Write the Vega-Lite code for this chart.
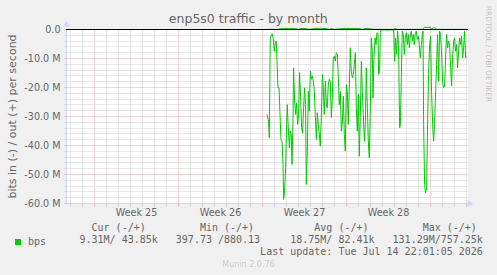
{
  "$schema": "https://vega.github.io/schema/vega-lite/v6.json",
  "width": 402,
  "height": 174,
  "autosize": {"type": "none"},
  "padding": {"left": 66, "top": 29, "right": 29, "bottom": 72},
  "background": "#f0f0f0",
  "config": {"font": "DejaVu Sans", "view": {"fill": "#ffffff", "stroke": null}},
  "title": {"text": "enp5s0 traffic - by month", "font": "DejaVu Sans", "fontSize": 12.5, "fontWeight": "normal", "color": "#666666", "anchor": "middle", "baseline": "alphabetic", "offset": 6.5, "dx": -18.7, "dy": 37},
  "resolve": {"axis": {"x": "independent", "y": "independent"}},
  "layer": [
    {
      "data": {"values": [
        {"day": 14.42, "bits": -29.3, "dir": "in", "series": "bps"},
        {"day": 14.55, "bits": -31.6, "dir": "in", "series": "bps"},
        {"day": 14.61, "bits": -37.3, "dir": "in", "series": "bps"},
        {"day": 14.69, "bits": -2.9, "dir": "in", "series": "bps"},
        {"day": 14.78, "bits": -1.7, "dir": "in", "series": "bps"},
        {"day": 14.86, "bits": -1.5, "dir": "in", "series": "bps"},
        {"day": 14.94, "bits": -3.4, "dir": "in", "series": "bps"},
        {"day": 15.03, "bits": -7.5, "dir": "in", "series": "bps"},
        {"day": 15.11, "bits": -4.6, "dir": "in", "series": "bps"},
        {"day": 15.19, "bits": -4.0, "dir": "in", "series": "bps"},
        {"day": 15.25, "bits": -10.9, "dir": "in", "series": "bps"},
        {"day": 15.33, "bits": -20.1, "dir": "in", "series": "bps"},
        {"day": 15.42, "bits": -20.1, "dir": "in", "series": "bps"},
        {"day": 15.5, "bits": -29.3, "dir": "in", "series": "bps"},
        {"day": 15.58, "bits": -37.9, "dir": "in", "series": "bps"},
        {"day": 15.67, "bits": -38.5, "dir": "in", "series": "bps"},
        {"day": 15.75, "bits": -46.5, "dir": "in", "series": "bps"},
        {"day": 15.8, "bits": -58.6, "dir": "in", "series": "bps"},
        {"day": 15.88, "bits": -55.7, "dir": "in", "series": "bps"},
        {"day": 15.97, "bits": -47.7, "dir": "in", "series": "bps"},
        {"day": 16.05, "bits": -32.7, "dir": "in", "series": "bps"},
        {"day": 16.11, "bits": -25.9, "dir": "in", "series": "bps"},
        {"day": 16.19, "bits": -33.9, "dir": "in", "series": "bps"},
        {"day": 16.28, "bits": -40.8, "dir": "in", "series": "bps"},
        {"day": 16.36, "bits": -35.0, "dir": "in", "series": "bps"},
        {"day": 16.44, "bits": -36.2, "dir": "in", "series": "bps"},
        {"day": 16.5, "bits": -46.5, "dir": "in", "series": "bps"},
        {"day": 16.58, "bits": -32.7, "dir": "in", "series": "bps"},
        {"day": 16.63, "bits": -13.2, "dir": "in", "series": "bps"},
        {"day": 16.72, "bits": -24.7, "dir": "in", "series": "bps"},
        {"day": 16.8, "bits": -29.3, "dir": "in", "series": "bps"},
        {"day": 16.88, "bits": -25.3, "dir": "in", "series": "bps"},
        {"day": 16.97, "bits": -32.7, "dir": "in", "series": "bps"},
        {"day": 17.05, "bits": -29.3, "dir": "in", "series": "bps"},
        {"day": 17.13, "bits": -14.9, "dir": "in", "series": "bps"},
        {"day": 17.22, "bits": -23.6, "dir": "in", "series": "bps"},
        {"day": 17.3, "bits": -33.9, "dir": "in", "series": "bps"},
        {"day": 17.38, "bits": -35.6, "dir": "in", "series": "bps"},
        {"day": 17.47, "bits": -27.0, "dir": "in", "series": "bps"},
        {"day": 17.55, "bits": -20.1, "dir": "in", "series": "bps"},
        {"day": 17.63, "bits": -25.9, "dir": "in", "series": "bps"},
        {"day": 17.69, "bits": -53.4, "dir": "in", "series": "bps"},
        {"day": 17.78, "bits": -41.9, "dir": "in", "series": "bps"},
        {"day": 17.86, "bits": -21.3, "dir": "in", "series": "bps"},
        {"day": 17.94, "bits": -28.2, "dir": "in", "series": "bps"},
        {"day": 18.03, "bits": -14.4, "dir": "in", "series": "bps"},
        {"day": 18.11, "bits": -17.2, "dir": "in", "series": "bps"},
        {"day": 18.19, "bits": -16.1, "dir": "in", "series": "bps"},
        {"day": 18.28, "bits": -17.8, "dir": "in", "series": "bps"},
        {"day": 18.36, "bits": -21.3, "dir": "in", "series": "bps"},
        {"day": 18.44, "bits": -29.3, "dir": "in", "series": "bps"},
        {"day": 18.53, "bits": -37.9, "dir": "in", "series": "bps"},
        {"day": 18.61, "bits": -28.7, "dir": "in", "series": "bps"},
        {"day": 18.69, "bits": -32.7, "dir": "in", "series": "bps"},
        {"day": 18.78, "bits": -36.2, "dir": "in", "series": "bps"},
        {"day": 18.86, "bits": -40.2, "dir": "in", "series": "bps"},
        {"day": 18.94, "bits": -30.4, "dir": "in", "series": "bps"},
        {"day": 19.03, "bits": -15.5, "dir": "in", "series": "bps"},
        {"day": 19.11, "bits": -20.1, "dir": "in", "series": "bps"},
        {"day": 19.19, "bits": -29.3, "dir": "in", "series": "bps"},
        {"day": 19.28, "bits": -17.8, "dir": "in", "series": "bps"},
        {"day": 19.36, "bits": -25.9, "dir": "in", "series": "bps"},
        {"day": 19.44, "bits": -27.0, "dir": "in", "series": "bps"},
        {"day": 19.53, "bits": -18.4, "dir": "in", "series": "bps"},
        {"day": 19.61, "bits": -17.2, "dir": "in", "series": "bps"},
        {"day": 19.69, "bits": -17.8, "dir": "in", "series": "bps"},
        {"day": 19.78, "bits": -30.4, "dir": "in", "series": "bps"},
        {"day": 19.86, "bits": -23.6, "dir": "in", "series": "bps"},
        {"day": 19.94, "bits": -9.8, "dir": "in", "series": "bps"},
        {"day": 20.03, "bits": -9.2, "dir": "in", "series": "bps"},
        {"day": 20.11, "bits": -10.9, "dir": "in", "series": "bps"},
        {"day": 20.19, "bits": -8.0, "dir": "in", "series": "bps"},
        {"day": 20.28, "bits": -8.6, "dir": "in", "series": "bps"},
        {"day": 20.36, "bits": -16.7, "dir": "in", "series": "bps"},
        {"day": 20.44, "bits": -25.9, "dir": "in", "series": "bps"},
        {"day": 20.53, "bits": -21.3, "dir": "in", "series": "bps"},
        {"day": 20.61, "bits": -35.0, "dir": "in", "series": "bps"},
        {"day": 20.69, "bits": -32.7, "dir": "in", "series": "bps"},
        {"day": 20.78, "bits": -23.0, "dir": "in", "series": "bps"},
        {"day": 20.86, "bits": -36.2, "dir": "in", "series": "bps"},
        {"day": 20.94, "bits": -41.9, "dir": "in", "series": "bps"},
        {"day": 21.03, "bits": -19.0, "dir": "in", "series": "bps"},
        {"day": 21.11, "bits": -21.3, "dir": "in", "series": "bps"},
        {"day": 21.19, "bits": -32.7, "dir": "in", "series": "bps"},
        {"day": 21.28, "bits": -19.0, "dir": "in", "series": "bps"},
        {"day": 21.36, "bits": -6.3, "dir": "in", "series": "bps"},
        {"day": 21.44, "bits": -14.4, "dir": "in", "series": "bps"},
        {"day": 21.53, "bits": -16.7, "dir": "in", "series": "bps"},
        {"day": 21.61, "bits": -15.5, "dir": "in", "series": "bps"},
        {"day": 21.69, "bits": -12.0, "dir": "in", "series": "bps"},
        {"day": 21.78, "bits": -8.0, "dir": "in", "series": "bps"},
        {"day": 21.86, "bits": -27.0, "dir": "in", "series": "bps"},
        {"day": 21.94, "bits": -35.0, "dir": "in", "series": "bps"},
        {"day": 22.03, "bits": -22.4, "dir": "in", "series": "bps"},
        {"day": 22.11, "bits": -43.7, "dir": "in", "series": "bps"},
        {"day": 22.19, "bits": -30.4, "dir": "in", "series": "bps"},
        {"day": 22.28, "bits": -10.9, "dir": "in", "series": "bps"},
        {"day": 22.36, "bits": -21.3, "dir": "in", "series": "bps"},
        {"day": 22.44, "bits": -29.3, "dir": "in", "series": "bps"},
        {"day": 22.53, "bits": -38.5, "dir": "in", "series": "bps"},
        {"day": 22.61, "bits": -32.7, "dir": "in", "series": "bps"},
        {"day": 22.69, "bits": -13.2, "dir": "in", "series": "bps"},
        {"day": 22.78, "bits": -27.0, "dir": "in", "series": "bps"},
        {"day": 22.86, "bits": -38.5, "dir": "in", "series": "bps"},
        {"day": 22.94, "bits": -44.2, "dir": "in", "series": "bps"},
        {"day": 23.03, "bits": -27.0, "dir": "in", "series": "bps"},
        {"day": 23.11, "bits": -2.9, "dir": "in", "series": "bps"},
        {"day": 23.19, "bits": -7.5, "dir": "in", "series": "bps"},
        {"day": 23.25, "bits": -23.6, "dir": "in", "series": "bps"},
        {"day": 23.33, "bits": -9.8, "dir": "in", "series": "bps"},
        {"day": 23.42, "bits": -2.9, "dir": "in", "series": "bps"},
        {"day": 23.5, "bits": -5.2, "dir": "in", "series": "bps"},
        {"day": 23.58, "bits": -1.1, "dir": "in", "series": "bps"},
        {"day": 23.67, "bits": -1.7, "dir": "in", "series": "bps"},
        {"day": 23.72, "bits": -15.5, "dir": "in", "series": "bps"},
        {"day": 23.8, "bits": -14.4, "dir": "in", "series": "bps"},
        {"day": 23.86, "bits": -1.0, "dir": "in", "series": "bps"},
        {"day": 23.94, "bits": -0.2, "dir": "in", "series": "bps"},
        {"day": 24.19, "bits": -0.1, "dir": "in", "series": "bps"},
        {"day": 24.44, "bits": -0.2, "dir": "in", "series": "bps"},
        {"day": 24.69, "bits": -0.1, "dir": "in", "series": "bps"},
        {"day": 24.9, "bits": -0.2, "dir": "in", "series": "bps"},
        {"day": 24.97, "bits": -0.1, "dir": "in", "series": "bps"},
        {"day": 25.05, "bits": -10.9, "dir": "in", "series": "bps"},
        {"day": 25.13, "bits": -2.9, "dir": "in", "series": "bps"},
        {"day": 25.22, "bits": -8.6, "dir": "in", "series": "bps"},
        {"day": 25.3, "bits": -0.6, "dir": "in", "series": "bps"},
        {"day": 25.38, "bits": -5.2, "dir": "in", "series": "bps"},
        {"day": 25.47, "bits": -33.9, "dir": "in", "series": "bps"},
        {"day": 25.53, "bits": -32.7, "dir": "in", "series": "bps"},
        {"day": 25.61, "bits": -16.7, "dir": "in", "series": "bps"},
        {"day": 25.69, "bits": -0.6, "dir": "in", "series": "bps"},
        {"day": 25.78, "bits": -1.7, "dir": "in", "series": "bps"},
        {"day": 25.86, "bits": -8.6, "dir": "in", "series": "bps"},
        {"day": 25.94, "bits": -2.9, "dir": "in", "series": "bps"},
        {"day": 26.03, "bits": -1.1, "dir": "in", "series": "bps"},
        {"day": 26.11, "bits": -5.2, "dir": "in", "series": "bps"},
        {"day": 26.19, "bits": -1.7, "dir": "in", "series": "bps"},
        {"day": 26.28, "bits": -6.3, "dir": "in", "series": "bps"},
        {"day": 26.36, "bits": -2.3, "dir": "in", "series": "bps"},
        {"day": 26.44, "bits": -0.6, "dir": "in", "series": "bps"},
        {"day": 26.53, "bits": -4.0, "dir": "in", "series": "bps"},
        {"day": 26.61, "bits": -1.7, "dir": "in", "series": "bps"},
        {"day": 26.69, "bits": -5.2, "dir": "in", "series": "bps"},
        {"day": 26.78, "bits": -1.1, "dir": "in", "series": "bps"},
        {"day": 26.86, "bits": -0.6, "dir": "in", "series": "bps"},
        {"day": 26.94, "bits": -3.4, "dir": "in", "series": "bps"},
        {"day": 27.03, "bits": -2.3, "dir": "in", "series": "bps"},
        {"day": 27.11, "bits": -5.2, "dir": "in", "series": "bps"},
        {"day": 27.19, "bits": -9.8, "dir": "in", "series": "bps"},
        {"day": 27.28, "bits": -5.2, "dir": "in", "series": "bps"},
        {"day": 27.36, "bits": -1.7, "dir": "in", "series": "bps"},
        {"day": 27.42, "bits": -0.6, "dir": "in", "series": "bps"},
        {"day": 27.47, "bits": -32.7, "dir": "in", "series": "bps"},
        {"day": 27.55, "bits": -53.4, "dir": "in", "series": "bps"},
        {"day": 27.63, "bits": -56.3, "dir": "in", "series": "bps"},
        {"day": 27.72, "bits": -54.6, "dir": "in", "series": "bps"},
        {"day": 27.8, "bits": -32.7, "dir": "in", "series": "bps"},
        {"day": 27.88, "bits": -15.5, "dir": "in", "series": "bps"},
        {"day": 27.97, "bits": -5.2, "dir": "in", "series": "bps"},
        {"day": 28.05, "bits": -2.3, "dir": "in", "series": "bps"},
        {"day": 28.13, "bits": -21.3, "dir": "in", "series": "bps"},
        {"day": 28.22, "bits": -32.7, "dir": "in", "series": "bps"},
        {"day": 28.3, "bits": -38.5, "dir": "in", "series": "bps"},
        {"day": 28.38, "bits": -32.7, "dir": "in", "series": "bps"},
        {"day": 28.47, "bits": -21.3, "dir": "in", "series": "bps"},
        {"day": 28.55, "bits": -12.1, "dir": "in", "series": "bps"},
        {"day": 28.63, "bits": -1.7, "dir": "in", "series": "bps"},
        {"day": 28.72, "bits": -17.8, "dir": "in", "series": "bps"},
        {"day": 28.8, "bits": -0.6, "dir": "in", "series": "bps"},
        {"day": 28.88, "bits": -1.7, "dir": "in", "series": "bps"},
        {"day": 28.97, "bits": -8.6, "dir": "in", "series": "bps"},
        {"day": 29.05, "bits": -17.8, "dir": "in", "series": "bps"},
        {"day": 29.13, "bits": -20.1, "dir": "in", "series": "bps"},
        {"day": 29.22, "bits": -19.5, "dir": "in", "series": "bps"},
        {"day": 29.3, "bits": -9.8, "dir": "in", "series": "bps"},
        {"day": 29.38, "bits": -1.7, "dir": "in", "series": "bps"},
        {"day": 29.47, "bits": -6.3, "dir": "in", "series": "bps"},
        {"day": 29.55, "bits": -4.0, "dir": "in", "series": "bps"},
        {"day": 29.63, "bits": -5.2, "dir": "in", "series": "bps"},
        {"day": 29.72, "bits": -13.2, "dir": "in", "series": "bps"},
        {"day": 29.8, "bits": -19.5, "dir": "in", "series": "bps"},
        {"day": 29.88, "bits": -9.8, "dir": "in", "series": "bps"},
        {"day": 29.97, "bits": -4.0, "dir": "in", "series": "bps"},
        {"day": 30.05, "bits": -2.9, "dir": "in", "series": "bps"},
        {"day": 30.13, "bits": -7.5, "dir": "in", "series": "bps"},
        {"day": 30.22, "bits": -5.2, "dir": "in", "series": "bps"},
        {"day": 30.3, "bits": -13.2, "dir": "in", "series": "bps"},
        {"day": 30.38, "bits": -7.5, "dir": "in", "series": "bps"},
        {"day": 30.47, "bits": -2.9, "dir": "in", "series": "bps"},
        {"day": 30.55, "bits": -5.2, "dir": "in", "series": "bps"},
        {"day": 30.63, "bits": -2.3, "dir": "in", "series": "bps"},
        {"day": 30.72, "bits": -9.8, "dir": "in", "series": "bps"},
        {"day": 30.8, "bits": -6.3, "dir": "in", "series": "bps"},
        {"day": 30.88, "bits": -0.6, "dir": "in", "series": "bps"},
        {"day": 30.97, "bits": -9.8, "dir": "in", "series": "bps"},
        {"day": 31.02, "bits": -9.3, "dir": "in", "series": "bps"},
        {"day": 14.44, "bits": 0.04, "dir": "out", "series": "bps"},
        {"day": 15.36, "bits": 0.04, "dir": "out", "series": "bps"},
        {"day": 15.53, "bits": 0.3, "dir": "out", "series": "bps"},
        {"day": 16.19, "bits": 0.35, "dir": "out", "series": "bps"},
        {"day": 16.86, "bits": 0.3, "dir": "out", "series": "bps"},
        {"day": 17.03, "bits": 0.04, "dir": "out", "series": "bps"},
        {"day": 17.19, "bits": 0.3, "dir": "out", "series": "bps"},
        {"day": 17.69, "bits": 0.3, "dir": "out", "series": "bps"},
        {"day": 17.94, "bits": 0.04, "dir": "out", "series": "bps"},
        {"day": 18.28, "bits": 0.3, "dir": "out", "series": "bps"},
        {"day": 18.86, "bits": 0.4, "dir": "out", "series": "bps"},
        {"day": 19.44, "bits": 0.3, "dir": "out", "series": "bps"},
        {"day": 19.61, "bits": 0.04, "dir": "out", "series": "bps"},
        {"day": 19.78, "bits": 0.3, "dir": "out", "series": "bps"},
        {"day": 20.03, "bits": 0.04, "dir": "out", "series": "bps"},
        {"day": 20.53, "bits": 0.3, "dir": "out", "series": "bps"},
        {"day": 21.36, "bits": 0.35, "dir": "out", "series": "bps"},
        {"day": 22.19, "bits": 0.3, "dir": "out", "series": "bps"},
        {"day": 22.36, "bits": 0.04, "dir": "out", "series": "bps"},
        {"day": 22.53, "bits": 0.3, "dir": "out", "series": "bps"},
        {"day": 23.03, "bits": 0.3, "dir": "out", "series": "bps"},
        {"day": 23.28, "bits": 0.04, "dir": "out", "series": "bps"},
        {"day": 24.94, "bits": 0.04, "dir": "out", "series": "bps"},
        {"day": 25.11, "bits": 0.3, "dir": "out", "series": "bps"},
        {"day": 25.28, "bits": 0.04, "dir": "out", "series": "bps"},
        {"day": 27.36, "bits": 0.04, "dir": "out", "series": "bps"},
        {"day": 27.53, "bits": 0.7, "dir": "out", "series": "bps"},
        {"day": 28.03, "bits": 0.76, "dir": "out", "series": "bps"},
        {"day": 28.11, "bits": 0.1, "dir": "out", "series": "bps"},
        {"day": 28.28, "bits": 0.6, "dir": "out", "series": "bps"},
        {"day": 28.44, "bits": 0.5, "dir": "out", "series": "bps"},
        {"day": 28.61, "bits": 0.04, "dir": "out", "series": "bps"},
        {"day": 31.02, "bits": 0.04, "dir": "out", "series": "bps"}
      ]},
      "mark": {"type": "line", "strokeWidth": 1, "clip": false, "interpolate": "linear", "yOffset": 0.5},
      "encoding": {
        "x": {"field": "day", "type": "quantitative",
          "scale": {"domain": [-2.33333, 31.16667], "nice": false, "zero": false},
          "axis": {
            "orient": "bottom",
            "values": [-2, -1, 0, 1, 2, 3, 4, 5, 6, 7, 8, 9, 10, 11, 12, 13, 14, 15, 16, 17, 18, 19, 20, 21, 22, 23, 24, 25, 26, 27, 28, 29, 30, 31, 3.5, 10.5, 17.5, 24.5],
            "title": null,
            "domain": true, "domainColor": "#cfd6f8", "domainWidth": 1,
            "grid": true, "gridDash": [1, 1], "gridWidth": 1,
            "gridColor": {"condition": {"test": "datum.value % 7 == 0", "value": "#efaaaa"}, "value": "#d0d0d0"},
            "gridOpacity": {"condition": {"test": "datum.value % 1 != 0", "value": 0}, "value": 1},
            "ticks": true, "tickSize": 3,
            "tickColor": {"condition": {"test": "datum.value % 7 == 0", "value": "#efaaaa"}, "value": "#d0d0d0"},
            "tickOpacity": {"condition": {"test": "datum.value % 1 != 0", "value": 0}, "value": 1},
            "labelExpr": "datum.value % 1 != 0 ? 'Week ' + (25 + floor(datum.value / 7)) : ''",
            "labelFont": "DejaVu Sans", "labelFontSize": 9.6, "labelColor": "#666666",
            "labelPadding": 1, "labelOverlap": false, "labelFlush": false, "labelBound": false
          }
        },
        "y": {"field": "bits", "type": "quantitative",
          "scale": {"domain": [-60, 0], "nice": false, "zero": false},
          "axis": {
            "orient": "left",
            "values": [-60, -58, -56, -54, -52, -50, -48, -46, -44, -42, -40, -38, -36, -34, -32, -30, -28, -26, -24, -22, -20, -18, -16, -14, -12, -10, -8, -6, -4, -2, 0],
            "domain": true, "domainColor": "#cfd6f8", "domainWidth": 1,
            "grid": true, "gridDash": [1, 1], "gridWidth": 1,
            "gridColor": {"condition": {"test": "datum.value % 10 == 0", "value": "#efaaaa"}, "value": "#d0d0d0"},
            "ticks": true, "tickSize": 2,
            "tickColor": {"condition": {"test": "datum.value % 10 == 0", "value": "#efaaaa"}, "value": "#d0d0d0"},
            "labelExpr": "datum.value % 10 == 0 ? (datum.value == 0 ? '0.0' : '-' + format(abs(datum.value), '.1f') + ' M') : ''",
            "labelFont": "DejaVu Sans", "labelFontSize": 9.6, "labelColor": "#666666",
            "labelPadding": 4, "labelOverlap": false, "labelFlush": false, "labelBound": false,
            "title": "bits in (-) / out (+) per second",
            "titleFont": "DejaVu Sans", "titleFontSize": 11, "titleFontWeight": "normal", "titleColor": "#666666",
            "titleAngle": 270, "titleAlign": "center", "titleBaseline": "middle", "titleX": -54, "titleY": 87
          }
        },
        "detail": {"field": "dir", "type": "nominal"},
        "color": {"field": "series", "type": "nominal",
          "scale": {"domain": ["bps"], "range": ["#00cc00"]},
          "legend": {"orient": "none", "legendX": -53, "legendY": 208, "title": null, "padding": 0,
            "symbolType": "square", "symbolSize": 36, "symbolFillColor": "#00cc00", "symbolStrokeColor": "#00cc00", "symbolStrokeWidth": 0, "symbolOpacity": 1,
            "labelFont": "DejaVu Sans Mono", "labelFontSize": 10, "labelColor": "#666666", "labelOffset": 5}
        }
      }
    },
    {
      "data": {"values": [{}]},
      "mark": {"type": "rule", "color": "#000000", "strokeWidth": 1, "yOffset": 0.5},
      "encoding": {
        "y": {"datum": 0, "type": "quantitative", "axis": null}
      }
    },
    {
      "data": {"values": [{}]},
      "mark": {"type": "point", "shape": "triangle-up", "filled": true, "size": 50, "color": "#cfd6f8", "opacity": 1, "clip": false, "xOffset": 0.5},
      "encoding": {
        "x": {"datum": -2.33333, "type": "quantitative",
          "axis": {
            "orient": "bottom", "domain": false, "ticks": false, "labels": false, "grid": false,
            "title": [
              "\u200b\u00a0\u00a0Cur\u00a0(-/+)\u00a0\u00a0\u00a0\u00a0\u00a0\u00a0\u00a0\u00a0\u00a0Min\u00a0(-/+)\u00a0\u00a0\u00a0\u00a0\u00a0\u00a0\u00a0\u00a0\u00a0\u00a0Avg\u00a0(-/+)\u00a0\u00a0\u00a0\u00a0\u00a0\u00a0\u00a0\u00a0\u00a0Max\u00a0(-/+)",
              "9.31M/\u00a043.85k\u00a0\u00a0\u00a0397.73\u00a0/880.13\u00a0\u00a0\u00a0\u00a0\u00a018.75M/\u00a082.41k\u00a0\u00a0\u00a0131.29M/757.25k",
              "\u200b\u00a0\u00a0\u00a0\u00a0\u00a0\u00a0\u00a0\u00a0\u00a0\u00a0\u00a0\u00a0\u00a0\u00a0\u00a0\u00a0\u00a0\u00a0\u00a0\u00a0\u00a0\u00a0\u00a0\u00a0\u00a0\u00a0\u00a0\u00a0\u00a0\u00a0Last\u00a0update:\u00a0Tue\u00a0Jul\u00a014\u00a022:01:05\u00a02026"
            ],
            "titleFont": "DejaVu Sans Mono", "titleFontSize": 10, "titleFontWeight": "normal", "titleColor": "#666666",
            "titleAlign": "left", "titleAnchor": "start", "titleBaseline": "middle", "titleLineHeight": 12,
            "titleX": 13, "titleY": 24.7, "titleLimit": 1000
          }
        },
        "y": {"datum": 1.9, "type": "quantitative",
          "axis": {
            "orient": "right", "domain": false, "ticks": false, "labels": false, "grid": false,
            "title": "RRDTOOL / TOBI OETIKER",
            "titleFont": "DejaVu Sans", "titleFontSize": 7.5, "titleFontWeight": "normal", "titleColor": "#666666", "titleOpacity": 0.35,
            "titleAngle": 90, "titleAlign": "center", "titleBaseline": "middle", "titleX": 19, "titleY": 24.5
          }
        }
      }
    },
    {
      "data": {"values": [{}]},
      "mark": {"type": "point", "shape": "triangle-right", "filled": true, "size": 50, "color": "#cfd6f8", "opacity": 1, "clip": false, "yOffset": 0.5},
      "encoding": {
        "x": {"datum": 31.375, "type": "quantitative",
          "axis": {
            "orient": "bottom", "domain": false, "ticks": false, "labels": false, "grid": false,
            "title": "Munin 2.0.76",
            "titleFont": "DejaVu Sans", "titleFontSize": 8, "titleFontWeight": "normal", "titleColor": "#666666", "titleOpacity": 0.3,
            "titleAlign": "center", "titleBaseline": "middle", "titleX": 182, "titleY": 61
          }
        },
        "y": {"datum": -60, "type": "quantitative", "axis": null}
      }
    }
  ]
}
